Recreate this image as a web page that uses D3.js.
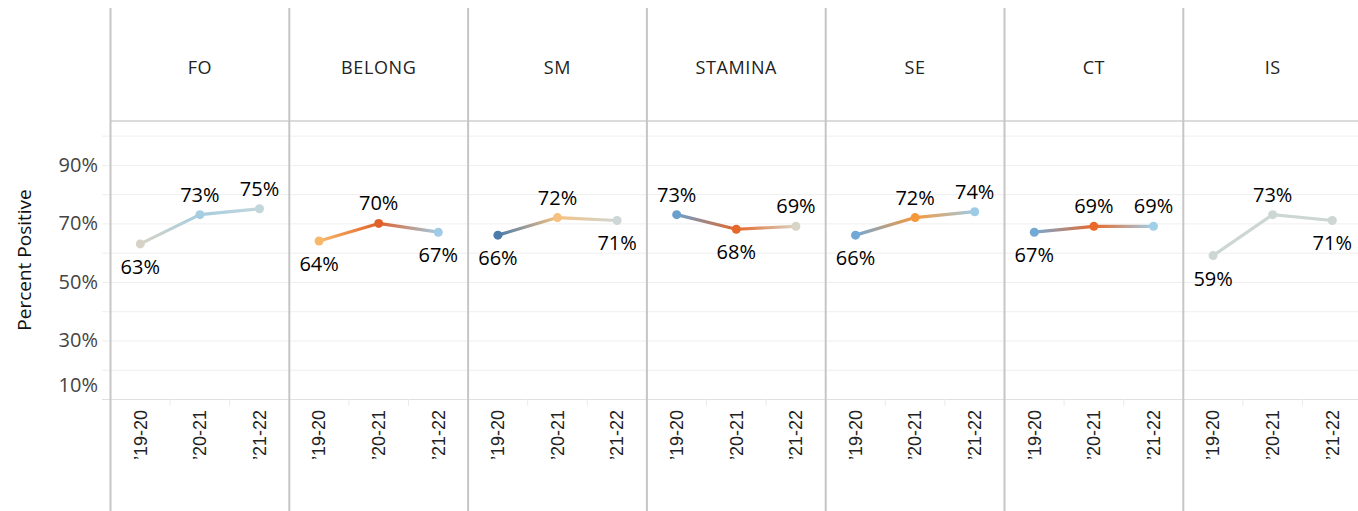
<!DOCTYPE html>
<html>
<head>
<meta charset="utf-8">
<script src="https://cdn.jsdelivr.net/npm/d3@7"></script>
<style>
  html, body { margin: 0; padding: 0; background: #fff; }
  svg { display: block; font-family: "Open Sans", "Noto Sans", sans-serif; }
</style>
</head>
<body>
<svg id="chart" width="1358" height="511"></svg>
<script>
// Survey measures (one small-multiple panel each) and school years
const measures = ["FO", "BELONG", "SM", "STAMINA", "SE", "CT", "IS"];
const years = ["\u201919-20", "\u201920-21", "\u201921-22"];

// Percent positive per measure, by year
const foValues      = [63, 73, 75];
const belongValues  = [64, 70, 67];
const smValues      = [66, 72, 71];
const staminaValues = [73, 68, 69];
const seValues      = [66, 72, 74];
const ctValues      = [67, 69, 69];
const isValues      = [59, 73, 71];

// Point colours per measure, by year
const foColors      = ["#d6d3c6", "#a6cde0", "#c3d6dc"];
const belongColors  = ["#f8b86a", "#e0622a", "#9fcbe5"];
const smColors      = ["#4a7bab", "#f6c07e", "#cdd8d6"];
const staminaColors = ["#6b9fcc", "#e5672a", "#d8d5c6"];
const seColors      = ["#72a8d6", "#f5983a", "#9ecbe6"];
const ctColors      = ["#75a9d5", "#e8692a", "#a0d0e8"];
const isColors      = ["#ccd6d3", "#ccd6d3", "#ccd6d3"];

// Axis ticks
const yTickLabels = [10, 30, 50, 70, 90];
const yGridValues = [10, 20, 30, 40, 50, 60, 70, 80, 90, 100];

const valueLists = [foValues, belongValues, smValues, staminaValues, seValues, ctValues, isValues];
const colorLists = [foColors, belongColors, smColors, staminaColors, seColors, ctColors, isColors];
const panels = measures.map((m, i) => ({
  measure: m,
  points: years.map((yr, j) => ({ year: yr, value: valueLists[i][j], color: colorLists[i][j] }))
}));

// Layout
const W = 1358, H = 511;
const left = 110.5, panelW = 178.8;
const headerTop = 8, plotTop = 121, plotBottom = 399;
const gridLeft = 102;

const svg = d3.select("#chart");
const defs = svg.append("defs");

const xPanel = d3.scaleBand().domain(measures).range([left, left + panelW * measures.length]).padding(0);
const xYear = d3.scalePoint().domain(years).range([0, panelW]).padding(0.5);
const y = d3.scaleLinear().domain([10, 105]).range([plotBottom, plotTop]);

// Horizontal gridlines
svg.append("g").selectAll("line").data(yGridValues).join("line")
  .attr("x1", gridLeft).attr("x2", W)
  .attr("y1", d => y(d) + 0.5).attr("y2", d => y(d) + 0.5)
  .attr("stroke", "#efefef").attr("stroke-width", 1);

// Header / plot separator and x-axis baseline
svg.append("line").attr("x1", left).attr("x2", W)
  .attr("y1", plotTop).attr("y2", plotTop)
  .attr("stroke", "#cfcfcf").attr("stroke-width", 1.5);
svg.append("line").attr("x1", gridLeft).attr("x2", W)
  .attr("y1", plotBottom + 0.5).attr("y2", plotBottom + 0.5)
  .attr("stroke", "#e0e0e0").attr("stroke-width", 1);

// Y axis labels
svg.append("g").selectAll("text").data(yTickLabels).join("text")
  .attr("x", 98)
  .attr("y", d => d === 10 ? y(d) - 14 : y(d))
  .attr("dy", "0.35em")
  .attr("text-anchor", "end")
  .attr("font-size", 20)
  .attr("fill", "#444")
  .text(d => d + "%");

svg.append("text")
  .attr("transform", `translate(24, ${(plotTop + plotBottom) / 2}) rotate(-90)`)
  .attr("text-anchor", "middle")
  .attr("dy", "0.35em")
  .attr("font-size", 19)
  .attr("fill", "#111")
  .text("Percent Positive");

// Panels
const panel = svg.append("g").selectAll("g.panel").data(panels).join("g")
  .attr("class", "panel")
  .attr("transform", d => `translate(${xPanel(d.measure)},0)`);

// Panel dividers
panel.append("line")
  .attr("x1", 0).attr("x2", 0)
  .attr("y1", headerTop).attr("y2", H)
  .attr("stroke", "#c6c6c6").attr("stroke-width", 2);

// Header labels
panel.append("text")
  .attr("x", panelW / 2).attr("y", 68)
  .attr("dy", "0.35em")
  .attr("text-anchor", "middle")
  .attr("font-size", 18)
  .attr("fill", "#222")
  .attr("letter-spacing", 0.6)
  .text(d => d.measure);

// Category separators in the x-axis band
panel.append("g").selectAll("line").data([1, 2]).join("line")
  .attr("x1", k => k * panelW / 3).attr("x2", k => k * panelW / 3)
  .attr("y1", plotBottom).attr("y2", plotBottom + 7)
  .attr("stroke", "#ececec").attr("stroke-width", 1);

// X axis year labels (rotated)
panel.append("g").selectAll("text").data(years).join("text")
  .attr("transform", yr => `translate(${xYear(yr)}, 410) rotate(-90)`)
  .attr("text-anchor", "end")
  .attr("dy", "0.35em")
  .attr("font-size", 18)
  .attr("font-family", "'Liberation Sans', Arial, sans-serif")
  .attr("fill", "#222")
  .text(yr => yr);

// Line segments with colour gradients between consecutive points
panel.each(function (p, pi) {
  const g = d3.select(this);
  d3.pairs(p.points).forEach(([a, b], si) => {
    const id = `grad-${pi}-${si}`;
    const grad = defs.append("linearGradient")
      .attr("id", id)
      .attr("gradientUnits", "userSpaceOnUse")
      .attr("x1", xYear(a.year)).attr("y1", y(a.value))
      .attr("x2", xYear(b.year)).attr("y2", y(b.value));
    grad.append("stop").attr("offset", "0%").attr("stop-color", a.color);
    grad.append("stop").attr("offset", "100%").attr("stop-color", b.color);
    g.append("line")
      .attr("x1", xYear(a.year)).attr("y1", y(a.value))
      .attr("x2", xYear(b.year)).attr("y2", y(b.value))
      .attr("stroke", `url(#${id})`)
      .attr("stroke-width", 3.2)
      .attr("stroke-linecap", "round");
  });

  g.append("g").selectAll("circle").data(p.points).join("circle")
    .attr("cx", d => xYear(d.year))
    .attr("cy", d => y(d.value))
    .attr("r", 4.5)
    .attr("fill", d => d.color);

  // Value labels: above a point unless it sits below its neighbours
  const vals = p.points.map(d => d.value);
  g.append("g").selectAll("text").data(p.points).join("text")
    .attr("x", d => xYear(d.year))
    .attr("y", (d, i) => {
      const prev = i > 0 ? vals[i - 1] : null;
      const next = i < vals.length - 1 ? vals[i + 1] : null;
      let above;
      if (prev === null) above = d.value >= next;
      else if (next === null) above = d.value >= prev;
      else above = !(d.value < prev && d.value < next);
      return above ? y(d.value) - 13 : y(d.value) + 30;
    })
    .attr("text-anchor", "middle")
    .attr("font-size", 20)
    .attr("fill", "#000")
    .text(d => d.value + "%");
});
</script>
</body>
</html>
